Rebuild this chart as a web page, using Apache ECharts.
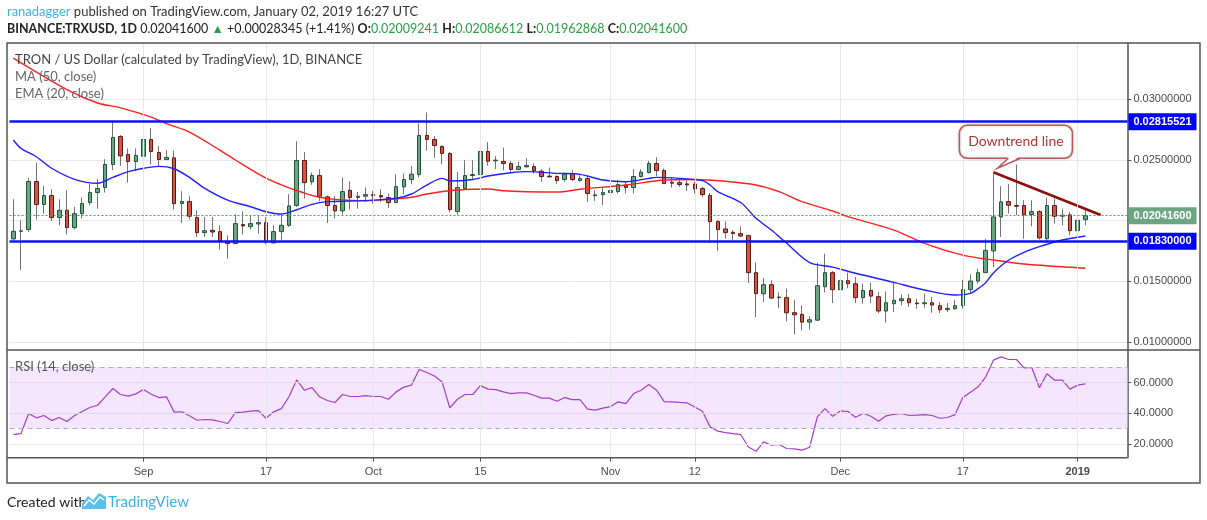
<!DOCTYPE html>
<html>
<head>
<meta charset="utf-8">
<title>TRXUSD</title>
<script src="https://cdn.jsdelivr.net/npm/echarts@6/dist/echarts.min.js"></script>
<style>
    html, body { margin: 0; padding: 0; background: #ffffff; }
    #grafica { width: 1207px; height: 520px; }
</style>
</head>
<body>
<div id="grafica"></div>
<script>
// daily sessions start here; the axis runs a few empty days past the last candle
const startDate = '2018-08-15';
const dayCount = 146;

const openPrices = [
    0.01850, 0.01913, 0.01927, 0.02323, 0.02133, 0.02207, 0.02026, 0.02086, 0.01943, 0.02058,
    0.02149, 0.02232, 0.02273, 0.02463, 0.02694, 0.02545, 0.02487, 0.02532, 0.02669, 0.02562,
    0.02504, 0.02518, 0.02141, 0.02158, 0.02026, 0.01902, 0.01921, 0.01910, 0.01828, 0.01811,
    0.01968, 0.01951, 0.01973, 0.01984, 0.01817, 0.01910, 0.01962, 0.02125, 0.02496, 0.02320,
    0.02372, 0.02196, 0.02125, 0.02081, 0.02251, 0.02191, 0.02202, 0.02215, 0.02207, 0.02191,
    0.02149, 0.02279, 0.02339, 0.02380, 0.02702, 0.02669, 0.02611, 0.02554, 0.02075, 0.02265,
    0.02372, 0.02380, 0.02570, 0.02493, 0.02488, 0.02471, 0.02422, 0.02444, 0.02446, 0.02408,
    0.02367, 0.02364, 0.02339, 0.02389, 0.02331, 0.02347, 0.02207, 0.02215, 0.02232, 0.02240,
    0.02292, 0.02273, 0.02364, 0.02397, 0.02471, 0.02413, 0.02317, 0.02314, 0.02303, 0.02301,
    0.02265, 0.02207, 0.01993, 0.01932, 0.01905, 0.01894, 0.01877, 0.01572, 0.01399, 0.01473,
    0.01366, 0.01366, 0.01242, 0.01228, 0.01165, 0.01181, 0.01456, 0.01572, 0.01432, 0.01506,
    0.01481, 0.01366, 0.01426, 0.01374, 0.01256, 0.01316, 0.01341, 0.01357, 0.01322, 0.01316,
    0.01324, 0.01300, 0.01267, 0.01275, 0.01300, 0.01432, 0.01503, 0.01572, 0.01751, 0.02031,
    0.02158, 0.02125, 0.02125, 0.02050, 0.02075, 0.01852, 0.02125, 0.02037, 0.02048, 0.01918,
    0.02009241
];
const closePrices = [
    0.01913, 0.01916, 0.02323, 0.02133, 0.02207, 0.02026, 0.02086, 0.01943, 0.02058, 0.02141,
    0.02232, 0.02265, 0.02463, 0.02686, 0.02534, 0.02488, 0.02537, 0.02669, 0.02570, 0.02504,
    0.02521, 0.02141, 0.02158, 0.02037, 0.01902, 0.01918, 0.01907, 0.01833, 0.01811, 0.01976,
    0.01957, 0.01976, 0.01984, 0.01825, 0.01910, 0.01962, 0.02122, 0.02496, 0.02314, 0.02372,
    0.02202, 0.02125, 0.02081, 0.02240, 0.02191, 0.02202, 0.02215, 0.02207, 0.02196, 0.02149,
    0.02281, 0.02339, 0.02383, 0.02702, 0.02669, 0.02620, 0.02554, 0.02092, 0.02273, 0.02372,
    0.02380, 0.02570, 0.02490, 0.02499, 0.02471, 0.02422, 0.02446, 0.02455, 0.02413, 0.02364,
    0.02361, 0.02331, 0.02386, 0.02339, 0.02347, 0.02224, 0.02213, 0.02232, 0.02248, 0.02298,
    0.02273, 0.02364, 0.02400, 0.02471, 0.02413, 0.02306, 0.02309, 0.02298, 0.02295, 0.02262,
    0.02215, 0.01993, 0.01927, 0.01902, 0.01894, 0.01874, 0.01572, 0.01399, 0.01473, 0.01363,
    0.01371, 0.01242, 0.01225, 0.01165, 0.01184, 0.01465, 0.01572, 0.01432, 0.01506, 0.01481,
    0.01366, 0.01426, 0.01379, 0.01256, 0.01324, 0.01344, 0.01357, 0.01324, 0.01316, 0.01324,
    0.01305, 0.01267, 0.01278, 0.01300, 0.01432, 0.01503, 0.01572, 0.01756, 0.02031, 0.02155,
    0.02127, 0.02119, 0.02048, 0.02075, 0.01858, 0.02125, 0.02037, 0.02045, 0.01918, 0.02004,
    0.020416
];
const highPrices = [
    0.02177, 0.02003, 0.02350, 0.02477, 0.02287, 0.02259, 0.02177, 0.02251, 0.02114, 0.02191,
    0.02300, 0.02342, 0.02507, 0.02823, 0.02705, 0.02595, 0.02595, 0.02774, 0.02765, 0.02614,
    0.02581, 0.02576, 0.02243, 0.02202, 0.02086, 0.02031, 0.02031, 0.01962, 0.01880, 0.02053,
    0.02078, 0.02045, 0.02037, 0.02031, 0.01962, 0.02050, 0.02218, 0.02655, 0.02565, 0.02397,
    0.02424, 0.02207, 0.02202, 0.02356, 0.02325, 0.02237, 0.02273, 0.02246, 0.02259, 0.02224,
    0.02383, 0.02389, 0.02449, 0.02801, 0.02892, 0.02697, 0.02622, 0.02565, 0.02400, 0.02499,
    0.02499, 0.02999, 0.02647, 0.02532, 0.02603, 0.02490, 0.02485, 0.02515, 0.02471, 0.02424,
    0.02438, 0.02375, 0.02397, 0.02416, 0.02375, 0.02375, 0.02251, 0.02273, 0.02270, 0.02334,
    0.02320, 0.02424, 0.02424, 0.02493, 0.02523, 0.02430, 0.02356, 0.02347, 0.02334, 0.02320,
    0.02279, 0.02229, 0.02004, 0.01995, 0.01921, 0.01954, 0.01885, 0.01657, 0.01528, 0.01509,
    0.01410, 0.01440, 0.01349, 0.01302, 0.01212, 0.01654, 0.01729, 0.01586, 0.01591, 0.01572,
    0.01536, 0.01481, 0.01489, 0.01412, 0.01418, 0.01495, 0.01393, 0.01399, 0.01357, 0.01399,
    0.01371, 0.01330, 0.01322, 0.01349, 0.01514, 0.01558, 0.01605, 0.01852, 0.02394, 0.02284,
    0.02301, 0.02463, 0.02169, 0.02169, 0.02086, 0.02191, 0.02182, 0.02100, 0.02072, 0.02059,
    0.02086612
];
const lowPrices = [
    0.01844, 0.01591, 0.01907, 0.02009, 0.02059, 0.01998, 0.01962, 0.01885, 0.01927, 0.02017,
    0.02127, 0.02100, 0.02232, 0.02416, 0.02452, 0.02314, 0.02411, 0.02526, 0.02463, 0.02449,
    0.02499, 0.02092, 0.01982, 0.02009, 0.01866, 0.01866, 0.01866, 0.01762, 0.01687, 0.01811,
    0.01885, 0.01927, 0.01894, 0.01806, 0.01817, 0.01839, 0.01949, 0.02114, 0.02182, 0.02295,
    0.02160, 0.01982, 0.02017, 0.02050, 0.02092, 0.02100, 0.02155, 0.02141, 0.02155, 0.02105,
    0.02149, 0.02218, 0.02301, 0.02356, 0.02576, 0.02518, 0.02466, 0.02070, 0.02050, 0.02262,
    0.02347, 0.02262, 0.02452, 0.02424, 0.02416, 0.02402, 0.02416, 0.02438, 0.02389, 0.02320,
    0.02356, 0.02303, 0.02320, 0.02328, 0.02320, 0.02155, 0.02163, 0.02130, 0.02196, 0.02224,
    0.02224, 0.02224, 0.02356, 0.02389, 0.02369, 0.02303, 0.02273, 0.02279, 0.02246, 0.02224,
    0.02196, 0.01817, 0.01751, 0.01852, 0.01839, 0.01866, 0.01487, 0.01206, 0.01330, 0.01355,
    0.01280, 0.01170, 0.01063, 0.01096, 0.01102, 0.01173, 0.01410, 0.01322, 0.01371, 0.01445,
    0.01322, 0.01316, 0.01322, 0.01239, 0.01159, 0.01247, 0.01302, 0.01289, 0.01275, 0.01283,
    0.01242, 0.01239, 0.01247, 0.01267, 0.01275, 0.01399, 0.01481, 0.01572, 0.01619, 0.01866,
    0.02059, 0.02045, 0.01852, 0.01954, 0.01844, 0.01817, 0.01976, 0.01962, 0.01880, 0.01811,
    0.01962868
];

// MA(50) and EMA(20) at these session indexes
const ma50Index = [0, 7, 11, 14, 18, 20, 23, 27, 29, 33, 36, 38, 40, 42, 46, 49, 52, 54, 57, 60,
    62, 64, 67, 71, 74, 80, 85, 89, 93, 97, 100, 103, 107, 109, 115, 119, 124, 128, 132, 140];
const ma50Value = [0.0334, 0.0308, 0.0297, 0.0293, 0.02854, 0.0280, 0.0273, 0.0258, 0.0250, 0.0235,
    0.0227, 0.02228, 0.02193, 0.02176, 0.02165, 0.02176, 0.02193, 0.0222, 0.02247, 0.02259,
    0.02261, 0.02247, 0.02239, 0.02236, 0.02259, 0.02294, 0.02335, 0.0234, 0.02325, 0.02294,
    0.02239, 0.02157, 0.0208, 0.02033, 0.01923, 0.01814, 0.01717, 0.01676, 0.01643, 0.01608];

const ema20Index = [0, 1, 3, 5, 8, 11, 13, 15, 17, 19, 21, 23, 25, 28, 31, 33, 35, 37, 39, 41,
    44, 47, 50, 52, 54, 56, 57, 60, 62, 65, 67, 71, 74, 77, 80, 83, 84, 87, 90, 91,
    92, 95, 97, 99, 101, 104, 107, 110, 115, 119, 123, 125, 126, 127, 128, 130, 132, 134, 137, 140];
const ema20Value = [0.02665, 0.02596, 0.02527, 0.02432, 0.02341, 0.02308, 0.02357, 0.02404, 0.02432, 0.02448,
    0.02428, 0.02357, 0.02267, 0.02170, 0.02115, 0.02074, 0.02055, 0.02090, 0.02135, 0.02157,
    0.02162, 0.02170, 0.02185, 0.02220, 0.02294, 0.02349, 0.02327, 0.02340, 0.02368, 0.02395,
    0.02404, 0.02390, 0.02382, 0.02335, 0.02321, 0.02349, 0.02357, 0.02349, 0.02330, 0.02294,
    0.02239, 0.02150, 0.02020, 0.01923, 0.01814, 0.01655, 0.01618, 0.01567, 0.01492, 0.01429,
    0.01388, 0.01402, 0.01440, 0.01490, 0.01570, 0.01676, 0.01740, 0.01786, 0.01841, 0.01874];

const rsiValues = [
    26.1, 26.7, 39.8, 37.0, 38.5, 35.2, 37.2, 34.6, 38.5, 41.1,
    43.7, 45.2, 50.7, 56.1, 52.2, 51.1, 52.6, 55.4, 52.4, 50.2,
    50.7, 40.7, 40.9, 38.3, 35.4, 35.9, 35.7, 34.6, 33.3, 40.4,
    40.7, 41.3, 41.7, 36.7, 40.9, 43.0, 50.7, 61.7, 55.0, 56.7,
    50.7, 48.3, 47.0, 52.2, 50.9, 50.9, 51.5, 50.9, 50.9, 49.1,
    53.9, 57.0, 58.3, 68.5, 66.5, 64.3, 60.4, 43.5, 49.1, 52.2,
    52.2, 58.0, 55.7, 55.4, 53.9, 52.8, 53.3, 53.3, 51.7, 49.8,
    49.8, 47.8, 50.2, 48.9, 48.9, 42.6, 42.0, 43.3, 44.3, 47.4,
    46.3, 52.8, 55.0, 58.7, 55.0, 47.6, 47.4, 47.0, 46.7, 44.1,
    41.3, 31.1, 28.3, 27.4, 26.7, 26.1, 18.0, 15.2, 21.3, 19.1,
    19.6, 17.0, 16.7, 15.9, 17.8, 37.6, 43.0, 38.0, 41.5, 41.1,
    37.4, 40.0, 38.0, 34.8, 38.3, 39.3, 39.8, 38.5, 38.7, 39.1,
    38.5, 36.7, 37.2, 39.1, 50.2, 53.7, 57.2, 63.7, 74.6, 76.7,
    75.0, 75.0, 69.6, 69.8, 56.7, 65.7, 61.5, 61.5, 55.7, 58.3,
    59.1
];

const trendIndex = [128, 142];
const trendValue = [0.02399, 0.02047];

const resistanceLevel = 0.02815521;
const supportLevel = 0.0183;
const lastPrice = 0.020416;

const tickDates = ['2018-09-01', '2018-09-17', '2018-10-01', '2018-10-15', '2018-11-01',
    '2018-11-12', '2018-12-01', '2018-12-17', '2019-01-01'];
const tickLabels = ['Sep', '17', 'Oct', '15', 'Nov', '12', 'Dec', '17', '2019'];
const rsiTicks = [20, 40, 60];

const axisFont = 'Liberation Sans, Arial, sans-serif';
const textFont = 'Lato, "Open Sans", sans-serif';
const gridLineColor = '#e8e8e8';
const frameColor = '#555555';

const buildDates = () => {
    const first = new Date(startDate + 'T00:00:00Z').getTime();
    const out = [];
    for (let i = 0; i < dayCount; i++) {
        out.push(new Date(first + i * 86400000).toISOString().slice(0, 10));
    }
    return out;
};

const isTickDate = (idx, value) => tickDates.indexOf(value) !== -1;

const levelLabel = (bg) => ({
    show: true, position: 'end', distance: 1,
    formatter: p => Number(p.value).toFixed(8),
    color: '#fff', fontWeight: 'bold', fontSize: 11, fontFamily: axisFont,
    backgroundColor: bg, padding: [3, 5, 3, 5]
});

const buildOption = () => {
    const dates = buildDates();
    const wicks = openPrices.map((o, i) => [o, closePrices[i], lowPrices[i], highPrices[i]]);
    const bodies = openPrices.map((o, i) => {
        const c = closePrices[i];
        return [o, c, Math.min(o, c), Math.max(o, c)];
    });
    const verticalGrid = tickDates.map(d => ({ xAxis: d }));

    return {
        animation: false,
        backgroundColor: '#ffffff',
        grid: [
            { left: 9.5, right: 79.6, top: 43, height: 307 },
            { left: 9.5, right: 79.6, top: 350, height: 107.7 }
        ],
        xAxis: [
            {
                type: 'category', gridIndex: 0, data: dates, boundaryGap: true,
                axisLine: { show: false }, axisTick: { show: false },
                axisLabel: { show: false }, splitLine: { show: false }
            },
            {
                type: 'category', gridIndex: 1, data: dates, boundaryGap: true,
                axisLine: { show: false },
                axisTick: { show: true, alignWithLabel: true, interval: isTickDate, length: 4, lineStyle: { color: frameColor } },
                axisLabel: {
                    interval: isTickDate, margin: 9, color: '#4a4a4a', fontSize: 11, fontFamily: axisFont,
                    formatter: v => {
                        const t = tickLabels[tickDates.indexOf(v)] || '';
                        return t.length === 4 ? '{y|' + t + '}' : t;
                    },
                    rich: { y: { fontWeight: 'bold', color: '#4a4a4a', fontSize: 11, fontFamily: axisFont } }
                },
                splitLine: { show: false }
            }
        ],
        yAxis: [
            {
                type: 'value', gridIndex: 0, position: 'right', min: 0.009349, max: 0.03464, splitNumber: 5,
                axisLine: { show: true, lineStyle: { color: frameColor, width: 1.5 } },
                axisTick: { show: true, length: 4, lineStyle: { color: frameColor } },
                axisLabel: {
                    color: '#4a4a4a', fontSize: 11, fontFamily: axisFont, margin: 6,
                    showMinLabel: false, showMaxLabel: false,
                    formatter: v => v.toFixed(8)
                },
                splitLine: { show: true, lineStyle: { color: gridLineColor } }
            },
            {
                type: 'value', gridIndex: 1, position: 'right', min: 11, max: 81.2, splitNumber: 3,
                axisLine: { show: true, lineStyle: { color: frameColor, width: 1.5 } },
                axisTick: { show: true, length: 4, lineStyle: { color: frameColor }, customValues: rsiTicks },
                axisLabel: {
                    color: '#4a4a4a', fontSize: 11, fontFamily: axisFont, margin: 6,
                    customValues: rsiTicks,
                    formatter: v => rsiTicks.indexOf(Math.round(v)) !== -1 ? v.toFixed(4) : ''
                },
                splitLine: { show: false }
            }
        ],
        series: [
            {
                name: 'wicks', type: 'candlestick', xAxisIndex: 0, yAxisIndex: 0,
                data: wicks, barWidth: 0.6,
                itemStyle: { color: '#737375', color0: '#737375', borderColor: '#737375', borderColor0: '#737375', borderWidth: 1 },
                markLine: {
                    silent: true, symbol: ['none', 'none'], label: { show: false },
                    lineStyle: { color: gridLineColor, width: 1, type: 'solid' },
                    data: verticalGrid
                }
            },
            {
                name: 'TRXUSD', type: 'candlestick', xAxisIndex: 0, yAxisIndex: 0,
                data: bodies, barWidth: 4,
                itemStyle: { color: '#6ba583', color0: '#d75442', borderColor: '#225437', borderColor0: '#5b1a13', borderWidth: 1 }
            },
            {
                name: 'MA (50, close)', type: 'line', xAxisIndex: 0, yAxisIndex: 0,
                data: ma50Index.map((x, k) => [x, ma50Value[k]]),
                smooth: 0.3, symbol: 'none', lineStyle: { color: '#ff2020', width: 1.4 }
            },
            {
                name: 'EMA (20, close)', type: 'line', xAxisIndex: 0, yAxisIndex: 0,
                data: ema20Index.map((x, k) => [x, ema20Value[k]]),
                smooth: 0.3, symbol: 'none', lineStyle: { color: '#2020ff', width: 1.4 }
            },
            {
                name: 'Downtrend line', type: 'line', xAxisIndex: 0, yAxisIndex: 0,
                data: trendIndex.map((x, k) => [x, trendValue[k]]),
                symbol: 'none', lineStyle: { color: '#8e0d0d', width: 2.5 },
                markLine: {
                    silent: true, symbol: ['none', 'none'], precision: 8,
                    data: [
                        { yAxis: resistanceLevel, lineStyle: { color: '#1010ff', width: 2.5, type: 'solid' }, label: levelLabel('#0000ff') },
                        { yAxis: supportLevel, lineStyle: { color: '#1010ff', width: 2.5, type: 'solid' }, label: levelLabel('#0000ff') },
                        { yAxis: lastPrice, lineStyle: { color: '#4c9a6a', width: 1, type: [2, 2] }, label: levelLabel('#6ba583') }
                    ]
                }
            },
            {
                name: 'RSI (14, close)', type: 'line', xAxisIndex: 1, yAxisIndex: 1,
                data: rsiValues, symbol: 'none',
                lineStyle: { color: '#a63ec5', width: 1.2 },
                markArea: {
                    silent: true, itemStyle: { color: '#f4e6fe' },
                    data: [[{ yAxis: 30 }, { yAxis: 70 }]]
                },
                markLine: {
                    silent: true, symbol: ['none', 'none'], label: { show: false },
                    data: [
                        { yAxis: 20, lineStyle: { color: gridLineColor, width: 1, type: 'solid' } },
                        { yAxis: 40, lineStyle: { color: '#e2d8ea', width: 1, type: 'solid' } },
                        { yAxis: 60, lineStyle: { color: '#e2d8ea', width: 1, type: 'solid' } },
                        { yAxis: 30, lineStyle: { color: '#b4acbb', width: 1, type: [5, 4] } },
                        { yAxis: 70, lineStyle: { color: '#b4acbb', width: 1, type: [5, 4] } }
                    ].concat(tickDates.map(d => ({ xAxis: d, lineStyle: { color: gridLineColor, width: 1, type: 'solid' } })))
                }
            }
        ]
    };
};

const textItem = (x, y, text, fill, size, extra) => ({
    type: 'text', z: 20,
    style: Object.assign({ x: x, y: y, text: text, fill: fill, fontSize: size, fontFamily: textFont, verticalAlign: 'middle' }, extra || {})
});

const buildGraphics = (chart) => {
    const pt = chart.convertToPixel({ gridIndex: 0 }, [trendIndex[0], trendValue[0]]);
    const tx = pt[0] + 4;
    const ty = pt[1] - 4;
    const x0 = tx - 38, x1 = tx + 75, y0 = ty - 43, y1 = ty - 10;
    const green = '#2aa046';
    const rich = {
        b: { fontWeight: 'bold', fill: '#222', fontSize: 12.5, fontFamily: textFont },
        n: { fill: '#222', fontSize: 12.5, fontFamily: textFont },
        g: { fill: green, fontSize: 12.5, fontFamily: textFont },
        u: { fill: '#3bb3e4', fontSize: 13, fontFamily: textFont }
    };

    return [
        // frame
        { type: 'rect', z: 30, shape: { x: 7, y: 43, width: 1193, height: 440 }, style: { fill: 'none', stroke: frameColor, lineWidth: 1.5 } },
        { type: 'line', z: 30, shape: { x1: 7, y1: 350, x2: 1200, y2: 350 }, style: { stroke: frameColor, lineWidth: 1.5 } },
        { type: 'line', z: 30, shape: { x1: 7, y1: 457.7, x2: 1127.4, y2: 457.7 }, style: { stroke: frameColor, lineWidth: 1.5 } },

        // header
        textItem(7, 12, '{u|ranadagger} published on TradingView.com, January 02, 2019 16:27 UTC', '#333', 13, { rich: rich }),
        textItem(7, 29, '{b|BINANCE:TRXUSD, 1D} {n|0.02041600} {g|▲} {n|+0.00028345 (+1.41%)} {b|O:}{g|0.02009241} {b|H:}{g|0.02086612} {b|L:}{g|0.01962868} {b|C:}{g|0.02041600}',
            '#222', 12.5, { rich: rich }),

        // pane legends
        textItem(15, 60, 'TRON / US Dollar (calculated by TradingView), 1D, BINANCE', '#444', 13),
        textItem(15, 77, 'MA (50, close)', '#666', 13),
        textItem(15, 94, 'EMA (20, close)', '#666', 13),
        textItem(15, 367, 'RSI (14, close)', '#555', 13),

        // footer
        textItem(7, 502, 'Created with', '#222', 14),
        { type: 'polygon', z: 20, shape: { points: [[82, 509], [82, 503], [88, 496], [93, 500], [99, 493], [106, 497], [106, 509]] }, style: { fill: '#5bc0ea' } },
        { type: 'polyline', z: 21, shape: { points: [[84, 506], [89, 500], [94, 504], [100, 497], [104, 500]] }, style: { stroke: '#ffffff', lineWidth: 1.5, fill: 'none' } },
        textItem(108, 502, 'TradingView', '#3bb3e4', 15),

        // callout
        { type: 'rect', z: 40, shape: { x: x0, y: y0, width: x1 - x0, height: y1 - y0, r: 8 }, style: { fill: '#ffffff', stroke: '#b55a5a', lineWidth: 1.5, shadowBlur: 3, shadowColor: 'rgba(0,0,0,0.2)' } },
        { type: 'polygon', z: 41, shape: { points: [[tx + 11.5, y1 - 1.5], [tx, ty], [tx + 22, y1 - 1.5]] }, style: { fill: '#ffffff' } },
        { type: 'polyline', z: 42, shape: { points: [[tx + 11, y1], [tx, ty], [tx + 23, y1]] }, style: { stroke: '#b55a5a', lineWidth: 1.5, fill: 'none' } },
        {
            type: 'text', z: 43,
            style: { x: tx + 18.5, y: ty - 26.7, text: 'Downtrend line', fill: '#b03535', fontSize: 14, fontFamily: textFont, align: 'center', verticalAlign: 'middle' }
        }
    ];
};

const initGrafica = () => {
    const myChart = echarts.init(document.getElementById('grafica'));
    myChart.setOption(buildOption());
    myChart.setOption({ graphic: buildGraphics(myChart) });
};

window.addEventListener('load', () => {
    initGrafica();
});
</script>
</body>
</html>
